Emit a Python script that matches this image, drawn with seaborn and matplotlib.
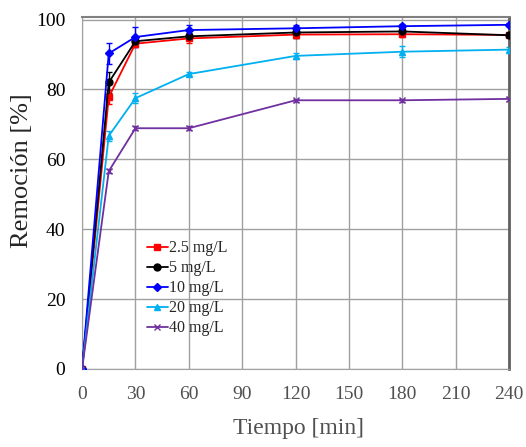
import pandas as pd
import matplotlib.pyplot as plt
import seaborn as sns

# Data
tiempo = [0, 15, 30, 60, 120, 180, 240]
series = ["2.5 mg/L", "5 mg/L", "10 mg/L", "20 mg/L", "40 mg/L"]
rem_25 = [0, 77.8, 93.1, 94.6, 95.7, 95.8, 95.6]
rem_5 = [0, 82.0, 93.8, 95.2, 96.3, 96.6, 95.5]
rem_10 = [0, 90.3, 95.0, 97.0, 97.5, 98.1, 98.5]
rem_20 = [0, 66.7, 77.5, 84.4, 89.6, 90.8, 91.4]
rem_40 = [0, 56.6, 68.9, 68.9, 76.9, 76.9, 77.3]
err_25 = [0, 2.0, 1.0, 1.2, 1.0, 0.8, 0.5]
err_5 = [0, 3.0, 1.2, 1.0, 1.5, 0.8, 0.5]
err_10 = [0, 3.0, 2.8, 1.5, 0.8, 0.6, 0.4]
err_20 = [0, 1.5, 1.5, 0.6, 0.8, 1.5, 0.8]
err_40 = [0, 0.5, 0.5, 0.5, 0.5, 0.5, 0.5]

values = [rem_25, rem_5, rem_10, rem_20, rem_40]
errors = [err_25, err_5, err_10, err_20, err_40]
colors = ["#ff0000", "#000000", "#0000ff", "#00b0f0", "#7030a0"]
markers = ["s", "o", "D", "^", "x"]
msizes = [5, 5, 4, 5, 4.5]

rows = []
for name, vals, errs in zip(series, values, errors):
    for t, v, e in zip(tiempo, vals, errs):
        rows.append({"Tiempo": t, "Remocion": v, "err": e, "serie": name})
df = pd.DataFrame(rows)

sns.set_style("white")
plt.rcParams["font.family"] = ["Liberation Serif", "DejaVu Serif"]

fig = plt.figure(figsize=(5.26, 4.47), dpi=100)
ax = fig.add_axes([0.156, 0.1745, 0.812, 0.788])

for name, c, m, ms in zip(series, colors, markers, msizes):
    d = df[df["serie"] == name]
    ax.errorbar(d["Tiempo"], d["Remocion"], yerr=d["err"], fmt="none",
                ecolor=c, elinewidth=1.0, capsize=2, zorder=2)
    sns.lineplot(data=d, x="Tiempo", y="Remocion", color=c, marker=m,
                 markersize=ms, markeredgecolor=c, markeredgewidth=1,
                 linewidth=1.3, label=name, ax=ax, zorder=3)

ax.set_xlim(0, 240)
ax.set_ylim(0, 100.8)
ax.set_xticks(range(0, 241, 30))
ax.set_yticks(range(0, 101, 20))
ax.grid(True, color="#a0a0a0", linewidth=1.0)
ax.tick_params(axis="x", labelsize=14, colors="#505050", length=0, pad=12)
ax.tick_params(axis="y", labelsize=14, colors="black", length=0, pad=12)
for side in ["left", "bottom", "top"]:
    ax.spines[side].set_color("#a0a0a0")
ax.spines["right"].set_color("#606060")
ax.spines["right"].set_linewidth(2)
ax.spines["top"].set_color("#808080")
ax.spines["top"].set_linewidth(1.5)

ax.set_xlabel("Tiempo [min]", fontsize=17, color="#505050")
ax.set_ylabel("Remoción [%]", fontsize=19)
ax.xaxis.set_label_coords(0.506, -0.14)
ax.yaxis.set_label_coords(-0.115, 0.562)

leg = ax.legend(loc="upper left", bbox_to_anchor=(0.152, 0.365), frameon=False,
                fontsize=11.5, handlelength=1.3, handletextpad=0.05,
                labelspacing=0.25, borderaxespad=0, borderpad=0)

plt.savefig("out.png", dpi=100)
plt.close()
